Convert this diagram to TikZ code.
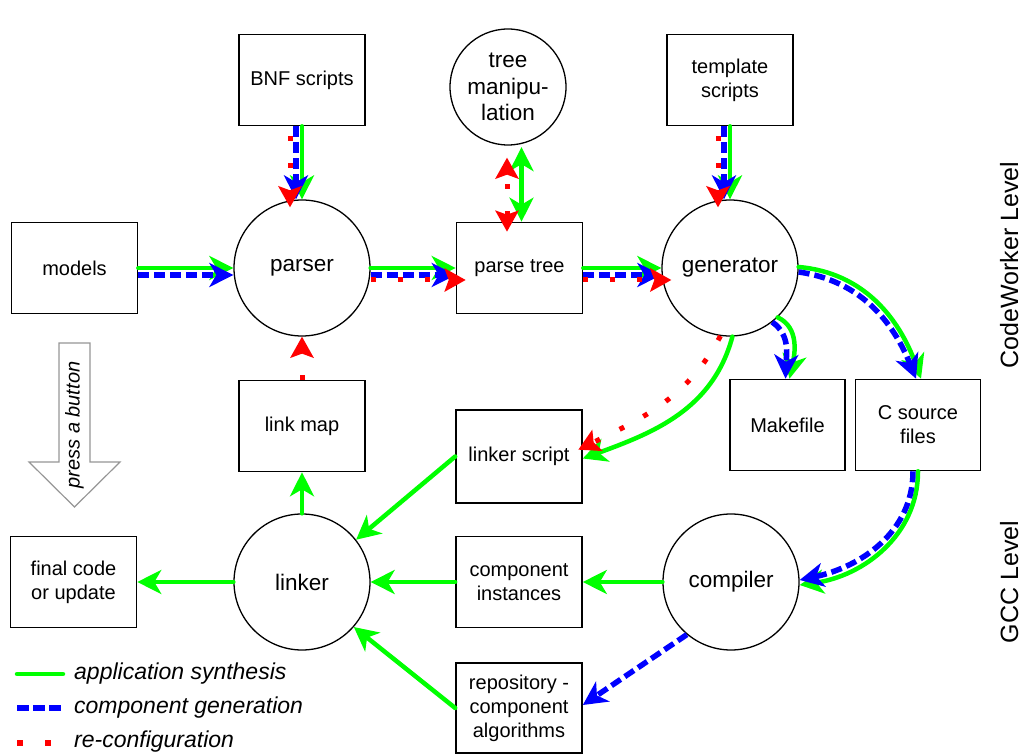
\documentclass[tikz,border=0pt]{standalone}
\usepackage{fontspec}
\setmainfont{Liberation Sans}
\usetikzlibrary{arrows.meta}
\definecolor{agreen}{RGB}{0,255,0}
\definecolor{ablue}{RGB}{0,0,255}
\definecolor{ared}{RGB}{255,0,0}
\definecolor{bgray}{RGB}{150,150,150}
\begin{document}
\begin{tikzpicture}[x=1pt,y=1pt,
  nfont/.style={font=\fontsize{20}{24}\selectfont},
  cfont/.style={font=\fontsize{22.5}{27}\selectfont},
  box/.style={draw, line width=1.6pt, minimum width=126pt, minimum height=91pt, inner sep=2pt, align=center, nfont},
  circ/.style={draw, circle, line width=1.3pt, minimum size=136pt, inner sep=0pt, align=center, cfont},
  G/.style={draw=agreen, line width=4.5pt, line cap=round, -{Stealth[length=24pt,width=24pt,inset=7pt]}},
  GG/.style={draw=agreen, line width=4.5pt, line cap=round, {Stealth[length=24pt,width=24pt,inset=7pt]}-{Stealth[length=24pt,width=24pt,inset=7pt]}},
  B/.style={draw=ablue, line width=5.5pt, dash pattern=on 11pt off 5pt, -{Stealth[length=24pt,width=24pt,inset=7pt]}},
  R/.style={draw=ared, line width=5pt, dash pattern=on 5pt off 22pt, -{Stealth[length=21pt,width=23pt,inset=4pt]}},
  RR/.style={draw=ared, line width=5pt, dash pattern=on 5pt off 22pt, {Stealth[length=21pt,width=23pt,inset=4pt]}-{Stealth[length=21pt,width=23pt,inset=4pt]}},
  legtext/.style={font=\fontsize{23}{27}\selectfont\itshape, anchor=base west, inner sep=0pt},
  lvl/.style={font=\fontsize{25}{30}\selectfont, rotate=90, anchor=base, inner sep=0pt}
]
\useasboundingbox (0,0) rectangle (1024,754);

% nodes
\node[box] (bnf) at (302,674) {BNF scripts};
\node[circ, minimum size=116pt, font=\fontsize{22.5}{26.5}\selectfont] (tm) at (508,667) {tree\\manipu-\\lation};
\node[box] (tmpl) at (730,674) {template\\scripts};
\node[box] (models) at (74.5,486) {models};
\node[circ] (parser) at (302,486) {parser};
\node[box] (ptree) at (519.5,486) {parse tree};
\node[circ] (gen) at (730,486) {generator};
\node[box, minimum width=115pt] (mk) at (787.5,329) {Makefile};
\node[box, minimum width=125pt] (csrc) at (918,329) {C source\\files};
\node[box] (lmap) at (302,328) {link map};
\node[box, minimum height=93pt] (lscript) at (519,297.5) {linker script};
\node[circ] (linker) at (302,172) {linker};
\node[box] (final) at (73.5,172) {final code\\or update};
\node[box] (cinst) at (519,172) {component\\instances};
\node[circ] (comp) at (731,172) {compiler};
\node[box, minimum height=90pt] (repo) at (519,46) {repository -\\component\\algorithms};

% press a button arrow
\draw[bgray, line width=1.2pt, fill=white] (59,411) -- (90,411) -- (90,292) -- (120,292) -- (74.5,247) -- (29,292) -- (59,292) -- cycle;
\node[rotate=90, font=\fontsize{20}{24}\selectfont\itshape] (press) at (74.5,329) {press a button};

% level labels
\node[lvl] (cwl) at (1018,489) {CodeWorker Level};
\node[lvl] (gccl) at (1018,172) {GCC Level};

% models -> parser
\draw[G] (models.east) -- (parser.west);
\draw[B] ([yshift=-7pt]models.east) -- ([yshift=-7pt]parser.west);

% bnf -> parser
\draw[G] (bnf.south) -- (parser.north);
\draw[B] ([xshift=-6pt]bnf.south) -- ([xshift=-6pt]parser.north);
\draw[R, shorten >=-8pt] ([xshift=-12pt,yshift=-10pt]bnf.south) -- ([xshift=-12pt]parser.north);

% parser -> parse tree
\draw[G] (parser.east) -- (ptree.west);
\draw[B] ([yshift=-7pt]parser.east) -- ([yshift=-7pt]ptree.west);
\draw[R, shorten >=-10pt] ([yshift=-12pt]parser.east) -- ([yshift=-12pt]ptree.west);

% parse tree <-> tree manipulation
\draw[GG, shorten >=1.5pt] ([xshift=2pt]ptree.north) -- ([xshift=2pt]ptree.north |- tm.south);
\draw[RR, shorten <=-10pt, shorten >=12pt] ([xshift=-12.5pt]ptree.north) -- ([xshift=-12.5pt]ptree.north |- tm.south);

% parse tree -> generator
\draw[G] (ptree.east) -- (gen.west);
\draw[B] ([yshift=-7pt]ptree.east) -- ([yshift=-7pt]gen.west);
\draw[R, shorten >=-10pt] ([yshift=-12pt]ptree.east) -- ([yshift=-12pt]gen.west);

% template -> generator
\draw[G] (tmpl.south) -- (gen.north);
\draw[B] ([xshift=-6pt]tmpl.south) -- ([xshift=-6pt]gen.north);
\draw[R, shorten >=-8pt] ([xshift=-12pt,yshift=-10pt]tmpl.south) -- ([xshift=-12pt]gen.north);

% generator -> C source files
\draw[G] ([yshift=1pt]gen.east) to[out=-5,in=110] ([xshift=3pt]csrc.north);
\draw[B] ([yshift=-4pt]gen.east) to[out=-8,in=112] ([xshift=-2pt]csrc.north);

% generator -> Makefile
\draw[G] (gen.-46) to[out=-25,in=78] ([xshift=2pt]mk.north);
\draw[B] (gen.-52) to[out=-35,in=88] ([xshift=-2pt]mk.north);

% generator -> linker script
\draw[G] (gen.-88) to[out=-105,in=20] ([yshift=-2pt]lscript.east);
\draw[R, shorten >=-5pt] (gen.-98) to[out=-118,in=26] ([yshift=9pt]lscript.east);

% C source -> compiler
\draw[G] (csrc.south) to[out=-90,in=8] ([yshift=-3pt]comp.east);
\draw[B] ([xshift=-5pt]csrc.south) to[out=-90,in=12] ([yshift=2pt]comp.east);

% compiler -> component instances / repository
\draw[G] (comp.west) -- (cinst.east);
\draw[B] (comp.-130) -- ([yshift=3pt]repo.east);

% into linker
\draw[G] (cinst.west) -- (linker.east);
\draw[G] (lscript.west) -- (linker.38);
\draw[G] (repo.west) -- (linker.-41);

% linker -> link map, final
\draw[G] (linker.north) -- (lmap.south);
\draw[G] (linker.west) -- (final.east);

% link map -> parser
\draw[R] (lmap.north) -- (parser.south);

% legend
\coordinate (la1) at (17,80); \coordinate (la2) at (63,80);
\coordinate (lb1) at (17,46); \coordinate (lb2) at (63,46);
\coordinate (lc1) at (17,11); \coordinate (lc2) at (52,11);
\draw[draw=agreen, line width=4.5pt, line cap=round] (la1) -- (la2);
\draw[draw=ablue, line width=5.5pt, dash pattern=on 12pt off 4pt] (lb1) -- (lb2);
\draw[draw=ared, line width=5.5pt, dash pattern=on 6pt off 22pt] (lc1) -- (lc2);
\node[legtext] (lta) at (74,74) {application synthesis};
\node[legtext] (ltb) at (74,40) {component generation};
\node[legtext] (ltc) at (74,6) {re-configuration};
\end{tikzpicture}
\end{document}
